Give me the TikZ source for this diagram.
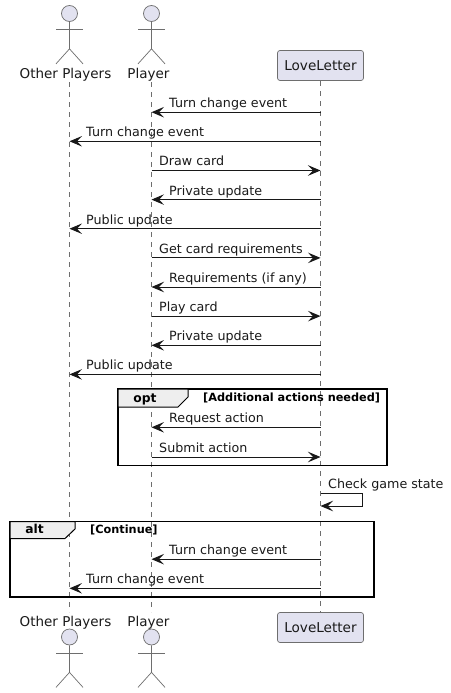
\documentclass[tikz,border=0pt]{standalone}
\usepackage{fontspec}
\setmainfont{DejaVu Sans}
\usetikzlibrary{arrows.meta}
\definecolor{ink}{HTML}{181818}
\definecolor{thin}{HTML}{6E6E6E}
\definecolor{partfill}{HTML}{E2E2F0}
\definecolor{tabfill}{HTML}{EEEEEE}
\definecolor{txt}{HTML}{1A1A1A}
\tikzset{
  x=1pt,y=-1pt,
  life/.style={draw=thin,line width=.6pt,dash pattern=on 5pt off 5pt},
  msg/.style={draw=ink,line width=1pt,-{Stealth[length=12.5pt,width=10.5pt,inset=5pt]}},
  msgtext/.style={anchor=base west,inner sep=0pt,font=\fontsize{12.7}{15}\selectfont,text=txt},
  parttext/.style={anchor=base,inner sep=0pt,font=\fontsize{13.5}{16}\selectfont,text=txt},
  partbox/.style={draw=thin,line width=.7pt,fill=partfill,rounded corners=2.5pt,minimum width=86pt,minimum height=30pt,inner sep=0pt,font=\fontsize{13.6}{16}\selectfont,text=txt},
  actorline/.style={draw=thin,line width=.7pt},
  frameline/.style={draw=black,line width=1.5pt},
  tabshape/.style={draw=black,line width=1pt,fill=tabfill},
  tabtext/.style={anchor=base,inner sep=0pt,font=\bfseries\fontsize{12.3}{15}\selectfont},
  condtext/.style={anchor=base west,inner sep=0pt,font=\bfseries\fontsize{11.3}{13}\selectfont},
}
\newcommand{\stick}[3]{% name, x, head-centre y
  \node[circle,draw=thin,line width=.7pt,fill=partfill,minimum size=16pt,inner sep=0pt] (#1) at (#2,#3) {};
  \draw[actorline] (#1.south) -- ++(0,27) -- ++(-13.5,15) ++(13.5,-15) -- ++(13.5,15);
  \draw[actorline] ([xshift=-13.5pt,yshift=-7.5pt]#1.south) -- ++(27,0);
}
\newcommand{\seqmsg}[6]{% id, y, from, to, text x, text
  \coordinate (a#1) at (#3 |- 0,#2);
  \coordinate (b#1) at (#4 |- 0,#2);
  \draw[msg] (a#1) -- (b#1);
  \node[msgtext] (t#1) at (#5,#2-4.6) {#6};
}
\begin{document}
\begin{tikzpicture}
\useasboundingbox (0,0) rectangle (450,693);
\fill[white] (0,0) rectangle (450,693);
% lifeline anchors
\coordinate (O) at (69.5,0);
\coordinate (P) at (151.5,0);
\coordinate (L) at (320.5,0);
\coordinate (Otop) at (69.5,82);
\coordinate (Obot) at (69.5,612);
\coordinate (Ptop) at (151.5,82);
\coordinate (Pbot) at (151.5,612);
\coordinate (Ltop) at (320.5,81);
\coordinate (Lbot) at (320.5,612);
\draw[life] (Otop) -- (Obot);
\draw[life] (Ptop) -- (Pbot);
\draw[life] (Ltop) -- (Lbot);
% top participants
\stick{otherhead}{69.5}{13.5}
\stick{playerhead}{151.5}{13.5}
\node[parttext] (othertop) at (65.5,78) {Other Players};
\node[parttext] (playertop) at (148.5,78) {Player};
\node[partbox] (lovetop) at (320.5,65.5) {LoveLetter};
% bottom participants
\stick{otherheadb}{69.5}{637}
\stick{playerheadb}{151.5}{637}
\node[parttext] (otherbot) at (65.5,626) {Other Players};
\node[parttext] (playerbot) at (148.5,626) {Player};
\node[partbox] (lovebot) at (320.5,627.5) {LoveLetter};
% opt frame
\draw[frameline] (118,389) rectangle (387,465.5);
\draw[tabshape] (118,389) -- (188,389) -- (188,397) -- (178,407) -- (118,407) -- cycle;
\node[tabtext] (optlabel) at (145,402) {opt};
\node[condtext] (optcond) at (203,401) {[Additional actions needed]};
% alt frame
\draw[frameline] (10,521.5) rectangle (374,597);
\draw[tabshape] (10,521.5) -- (75,521.5) -- (75,529) -- (65,538.5) -- (10,538.5) -- cycle;
\node[tabtext] (altlabel) at (34.5,533.5) {alt};
\node[condtext] (altcond) at (90,533) {[Continue]};
% messages
\seqmsg{1}{112.2}{L}{P}{169}{Turn change event}
\seqmsg{2}{141.3}{L}{O}{86}{Turn change event}
\seqmsg{3}{170.5}{P}{L}{159}{Draw card}
\seqmsg{4}{199.6}{L}{P}{169}{Private update}
\seqmsg{5}{228.7}{L}{O}{86}{Public update}
\seqmsg{6}{257.9}{P}{L}{159}{Get card requirements}
\seqmsg{7}{287}{L}{P}{169}{Requirements (if any)}
\seqmsg{8}{316.1}{P}{L}{159}{Play card}
\seqmsg{9}{345.3}{L}{P}{169}{Private update}
\seqmsg{10}{374.4}{L}{O}{86}{Public update}
\seqmsg{11}{427.3}{L}{P}{169}{Request action}
\seqmsg{12}{457}{P}{L}{159}{Submit action}
\seqmsg{13}{559.2}{L}{P}{169}{Turn change event}
\seqmsg{14}{588.3}{L}{O}{86}{Turn change event}
% self message
\coordinate (selfa) at (L |- 0,493);
\coordinate (selfb) at (L |- 0,506);
\draw[msg] (selfa) -- ++(42,0) -- ++(0,13) -- (selfb);
\node[msgtext] (selft) at (328,488) {Check game state};
\end{tikzpicture}
\end{document}
